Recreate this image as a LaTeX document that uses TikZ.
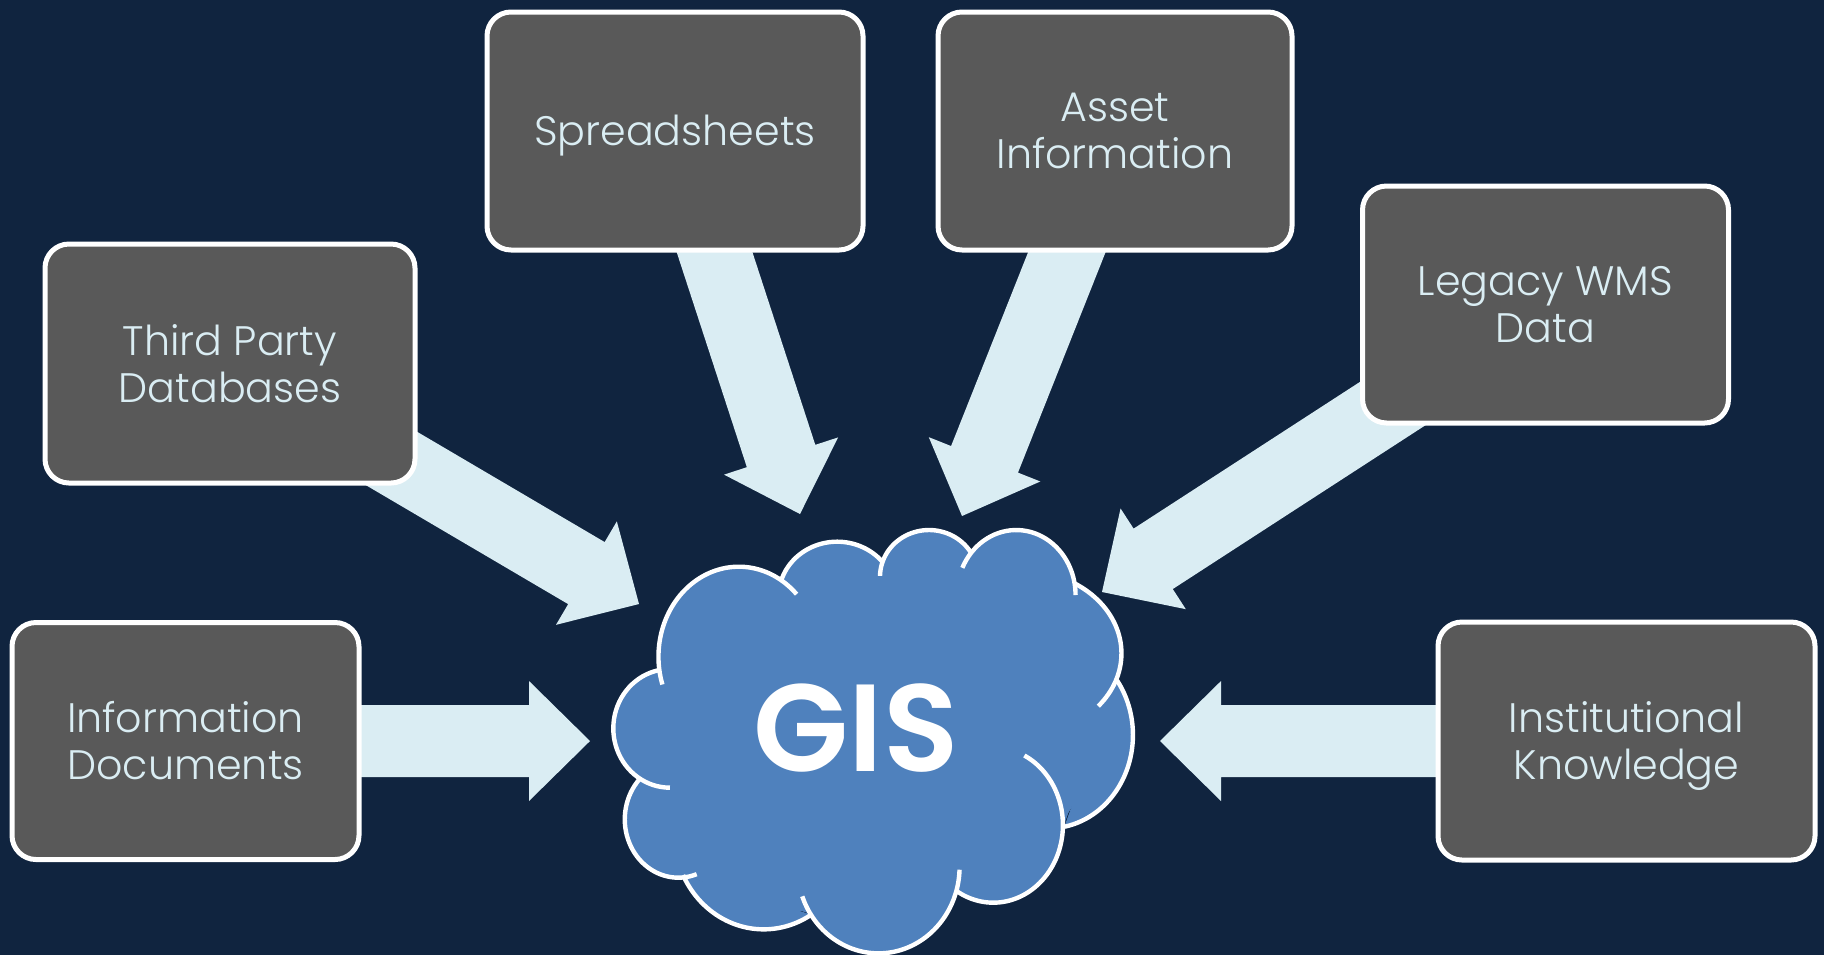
\documentclass[tikz,border=0pt]{standalone}
\usepackage{fontspec}
\setmainfont{Poppins}[UprightFont=* Light,BoldFont=* SemiBold]
\usetikzlibrary{calc}
\definecolor{bgnavy}{HTML}{10243F}
\definecolor{boxgrey}{HTML}{595959}
\definecolor{paleblue}{HTML}{DAEDF3}
\definecolor{cloudblue}{HTML}{4F81BD}
\pgfdeclarelayer{arrowlayer}
\pgfsetlayers{arrowlayer,main}
\tikzset{
  sourcebox/.style={draw=white,line width=2.5pt,fill=boxgrey,rounded corners=12pt,text=paleblue,
    align=center,font=\fontsize{20.6}{23.5}\selectfont,inner sep=0pt,anchor=center},
  blockarrow/.style={fill=paleblue,draw=none},
  lobefillstyle/.style={fill=cloudblue,draw=cloudblue,line width=0.4pt},
  lobeline/.style={draw=white,line width=2.2pt,line cap=butt}
}
\newcommand\nodepth[2][0pt]{\raisebox{0pt}[\height][#1]{#2}}
\newcommand\blockarrowfrom[2]{%
  \coordinate (headbase) at ($(#2)!30.5pt!(#1)$);
  \path[blockarrow] ($(#1)!18pt!-90:(#2)$) -- ($(headbase)!18pt!90:(#1)$) -- ($(headbase)!30pt!90:(#1)$)
    -- (#2) -- ($(headbase)!30pt!-90:(#1)$) -- ($(headbase)!18pt!-90:(#1)$) -- ($(#1)!18pt!90:(#2)$) -- cycle;}
% an elliptical lobe: centre x, centre y, x radius, y radius, start angle, end angle
\newcommand\lobefill[6]{\path[lobefillstyle] plot[domain=#5:#6,samples=40,smooth,variable=\t] ({#1+#3*cos(\t)},{#2+#4*sin(\t)}) -- cycle;}
\newcommand\lobestroke[6]{\path[lobeline] plot[domain=#5:#6,samples=40,smooth,variable=\t] ({#1+#3*cos(\t)},{#2+#4*sin(\t)});}
\newcommand\cloudlobes[1]{%
  #1{415}{470}{210}{270}{162}{316}%
  #1{672}{290}{153}{165}{197.7}{320.5}%
  #1{912}{230}{128}{140}{181}{327.6}%
  #1{1140}{285}{155}{195}{204.7}{360}%
  #1{1150}{460}{265}{249}{302.6}{399.5}%
  #1{1225}{705}{220}{280}{324}{439}%
  #1{1080}{975}{182}{233}{296.5}{481.7}%
  #1{780}{1100}{212}{260}{2}{160}%
  #1{480}{1000}{234}{288}{58.2}{154.2}%
  #1{257}{958}{140}{175}{70}{223}%
  #1{235}{685}{148}{178}{90}{258.3}%
}
\begin{document}
\begin{tikzpicture}[x=0.5pt,y=-0.5pt]
\useasboundingbox (0,0) rectangle (1824,955);
\begin{pgfonlayer}{arrowlayer}
  \fill[bgnavy] (0,0) rectangle (1824,955);
\end{pgfonlayer}

% cloud
\begin{scope}[shift={(580,500)},x=0.19133pt,y=-0.16667pt]
  \cloudlobes\lobefill
  \path[lobefillstyle] (205,513)--(415,210)--(527,236)--(790,181)--(1020,151)--(1293,251)--(1400,540)--(1265,970)--(985,1170)--(603,1240)--(270,1125)--(155,838)--cycle;
  \path[lobefillstyle] (140,690)--(210,530)--(330,320)--(535,260)--(672,180)--(790,210)--(912,140)--(1015,185)--(1150,160)--(1290,270)--(1380,420)--(1390,545)--(1400,720)--(1262,960)--(1150,1130)--(985,1160)--(800,1310)--(610,1230)--(450,1240)--(285,1120)--(170,1000)--(170,845)--cycle;
  \cloudlobes\lobestroke
\end{scope}
\node[text=white,font=\fontsize{62}{62}\selectfont\bfseries,inner sep=0pt] (gis) at (856,728) {GIS};

% source boxes
\node[sourcebox,minimum width=173.5pt,minimum height=118.5pt] (info) at (185.5,741) {Information\\Documents};
\node[sourcebox,minimum width=185pt,minimum height=119.5pt] (third) at (230,363.5) {Third Party\\Databases};
\node[sourcebox,minimum width=188pt,minimum height=119pt] (sheets) at (675,131) {\nodepth[1.2pt]{Spreadsheets}};
\node[sourcebox,minimum width=177pt,minimum height=119pt] (asset) at (1115,131) {Asset\\Information};
\node[sourcebox,minimum width=183pt,minimum height=118.5pt] (legacy) at (1545.5,304.5) {Legacy WMS\\Data};
\node[sourcebox,minimum width=188.5pt,minimum height=119pt] (inst) at (1626.5,741) {Institutional\\\nodepth[0.6pt]{Knowledge}};

% arrow targets
\coordinate (tinfo) at (590,741);
\coordinate (tthird) at (639,604);
\coordinate (tsheets) at (800,514);
\coordinate (tasset) at (962,516);
\coordinate (tlegacy) at (1102,592);
\coordinate (tinst) at (1160,741);

\begin{pgfonlayer}{arrowlayer}
  \blockarrowfrom{info.center}{tinfo}
  \blockarrowfrom{third.center}{tthird}
  \blockarrowfrom{sheets.center}{tsheets}
  \blockarrowfrom{asset.center}{tasset}
  \blockarrowfrom{legacy.center}{tlegacy}
  \blockarrowfrom{inst.center}{tinst}
\end{pgfonlayer}
\end{tikzpicture}
\end{document}
